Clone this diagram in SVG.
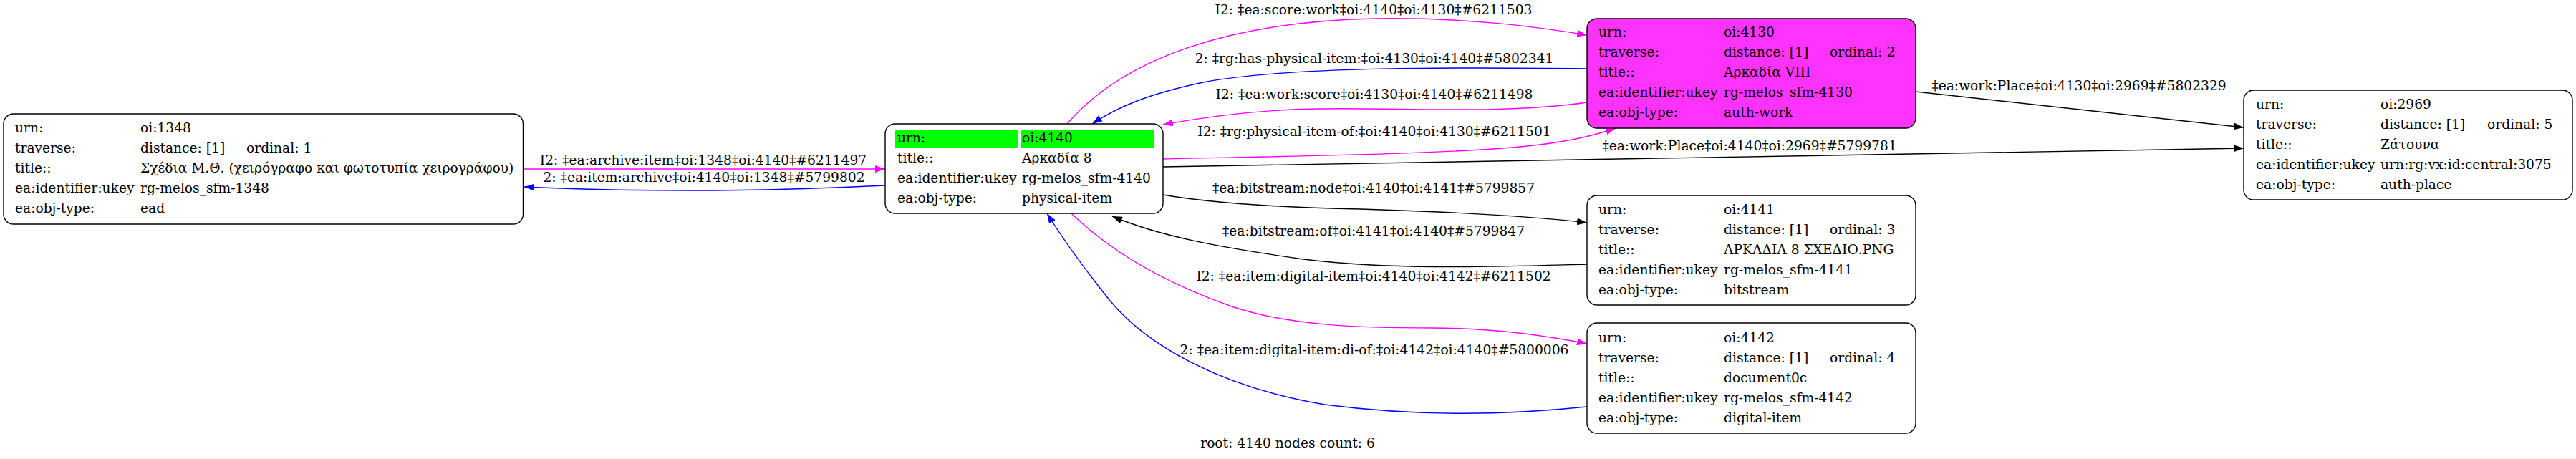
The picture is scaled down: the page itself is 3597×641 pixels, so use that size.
<svg xmlns="http://www.w3.org/2000/svg" width="3597" height="641" viewBox="0 0 3597 641">
<defs>
<style>
text{font-family:"DejaVu Serif","Liberation Serif",serif;font-size:18.67px;fill:#000}
.box{fill:#fff;stroke:#000;stroke-width:1.4}
.e{fill:none;stroke-width:1.4}
.k{stroke:#000}.b{stroke:#0000ff}.m{stroke:#ff00ff}
.lbl{text-anchor:middle}
</style>
<marker id="ak" viewBox="0 0 14 10" refX="14" refY="5" markerWidth="14" markerHeight="10" markerUnits="userSpaceOnUse" orient="auto"><path d="M0,0L14,5L0,10z" fill="#000"/></marker>
<marker id="ab" viewBox="0 0 14 10" refX="14" refY="5" markerWidth="14" markerHeight="10" markerUnits="userSpaceOnUse" orient="auto"><path d="M0,0L14,5L0,10z" fill="#0000ff"/></marker>
<marker id="am" viewBox="0 0 14 10" refX="14" refY="5" markerWidth="14" markerHeight="10" markerUnits="userSpaceOnUse" orient="auto"><path d="M0,0L14,5L0,10z" fill="#ff00ff"/></marker>
</defs>
<rect width="3597" height="641" fill="#fff"/>
<g id="edges">
<path class="e m" d="M1490,173 C1570,80 1720,30 1920,26 C2050,24 2150,38 2216,49" marker-end="url(#am)"/>
<text class="lbl" x="1918" y="20">I2: ‡ea:score:work‡oi:4140‡oi:4130‡#6211503</text>
<path class="e b" d="M2216,96 C2050,94 1800,92 1680,115 C1600,132 1560,150 1525,173" marker-end="url(#ab)"/>
<text class="lbl" x="1919" y="88">2: ‡rg:has-physical-item:‡oi:4130‡oi:4140‡#5802341</text>
<path class="e m" d="M2216,143 C2100,160 1950,150 1840,152 C1760,153 1690,162 1624,174" marker-end="url(#am)"/>
<text class="lbl" x="1919" y="138">I2: ‡ea:work:score‡oi:4130‡oi:4140‡#6211498</text>
<path class="e m" d="M1624,222 C1800,218 2050,215 2150,202 C2200,196 2230,188 2256,179" marker-end="url(#am)"/>
<text class="lbl" x="1919" y="190">I2: ‡rg:physical-item-of:‡oi:4140‡oi:4130‡#6211501</text>
<path class="e k" d="M1624,233 L3133,207" marker-end="url(#ak)"/>
<text class="lbl" x="2443" y="210">‡ea:work:Place‡oi:4140‡oi:2969‡#5799781</text>
<path class="e k" d="M2675,128 L3133,178" marker-end="url(#ak)"/>
<text class="lbl" x="2903" y="126">‡ea:work:Place‡oi:4130‡oi:2969‡#5802329</text>
<path class="e m" d="M732,236 L1236,236" marker-end="url(#am)"/>
<text class="lbl" x="982" y="230">I2: ‡ea:archive:item‡oi:1348‡oi:4140‡#6211497</text>
<path class="e b" d="M1236,259 C1050,268 900,268 732,261" marker-end="url(#ab)"/>
<text class="lbl" x="983" y="254">2: ‡ea:item:archive‡oi:4140‡oi:1348‡#5799802</text>
<path class="e k" d="M1624,272 C1700,285 1800,290 1900,292 C2000,295 2120,300 2216,311" marker-end="url(#ak)"/>
<text class="lbl" x="1918" y="269">‡ea:bitstream:node‡oi:4140‡oi:4141‡#5799857</text>
<path class="e k" d="M2216,369 C2100,372 1950,378 1820,362 C1700,345 1620,330 1553,302" marker-end="url(#ak)"/>
<text class="lbl" x="1918" y="329">‡ea:bitstream:of‡oi:4141‡oi:4140‡#5799847</text>
<path class="e m" d="M1496,298 C1560,360 1640,400 1720,428 C1800,455 1900,458 2000,458 C2080,458 2150,467 2216,480" marker-end="url(#am)"/>
<text class="lbl" x="1918" y="392">I2: ‡ea:item:digital-item‡oi:4140‡oi:4142‡#6211502</text>
<path class="e b" d="M2216,568 C2100,580 1980,582 1850,565 C1700,540 1600,480 1550,420 C1510,370 1485,335 1462,298" marker-end="url(#ab)"/>
<text class="lbl" x="1919" y="495">2: ‡ea:item:digital-item:di-of:‡oi:4142‡oi:4140‡#5800006</text>
</g>
<g id="n1348">
<rect class="box" x="5" y="159" width="725.5" height="154" rx="14"/>
<text x="21" y="185">urn:</text><text x="196" y="185">oi:1348</text>
<text x="21" y="213">traverse:</text><text x="196" y="213">distance: [1]</text><text x="344" y="213">ordinal: 1</text>
<text x="21" y="241">title::</text><text x="196" y="241">Σχέδια Μ.Θ. (χειρόγραφο και φωτοτυπία χειρογράφου)</text>
<text x="21" y="269">ea:identifier:ukey</text><text x="196" y="269">rg-melos_sfm-1348</text>
<text x="21" y="297">ea:obj-type:</text><text x="196" y="297">ead</text>
</g>
<g id="n4140">
<rect class="box" x="1236" y="173" width="388" height="125" rx="14"/>
<rect x="1250" y="181" width="172" height="26" fill="#00ff00"/>
<rect x="1425" y="181" width="186" height="26" fill="#00ff00"/>
<text x="1253" y="199">urn:</text><text x="1427" y="199">oi:4140</text>
<text x="1253" y="227">title::</text><text x="1427" y="227">Αρκαδία 8</text>
<text x="1253" y="255">ea:identifier:ukey</text><text x="1427" y="255">rg-melos_sfm-4140</text>
<text x="1253" y="283">ea:obj-type:</text><text x="1427" y="283">physical-item</text>
</g>
<g id="n4130">
<rect class="box" x="2216" y="26" width="459" height="153" rx="14" style="fill:#ff33ff"/>
<text x="2232" y="51">urn:</text><text x="2407" y="51">oi:4130</text>
<text x="2232" y="79">traverse:</text><text x="2407" y="79">distance: [1]</text><text x="2555" y="79">ordinal: 2</text>
<text x="2232" y="107">title::</text><text x="2407" y="107">Αρκαδία VIII</text>
<text x="2232" y="135">ea:identifier:ukey</text><text x="2407" y="135">rg-melos_sfm-4130</text>
<text x="2232" y="163">ea:obj-type:</text><text x="2407" y="163">auth-work</text>
</g>
<g id="n4141">
<rect class="box" x="2216" y="273" width="459" height="153" rx="14"/>
<text x="2232" y="299">urn:</text><text x="2407" y="299">oi:4141</text>
<text x="2232" y="327">traverse:</text><text x="2407" y="327">distance: [1]</text><text x="2555" y="327">ordinal: 3</text>
<text x="2232" y="355">title::</text><text x="2407" y="355">ΑΡΚΑΔΙΑ 8 ΣΧΕΔΙΟ.PNG</text>
<text x="2232" y="383">ea:identifier:ukey</text><text x="2407" y="383">rg-melos_sfm-4141</text>
<text x="2232" y="411">ea:obj-type:</text><text x="2407" y="411">bitstream</text>
</g>
<g id="n4142">
<rect class="box" x="2216" y="451" width="459" height="154" rx="14"/>
<text x="2232" y="478">urn:</text><text x="2407" y="478">oi:4142</text>
<text x="2232" y="506">traverse:</text><text x="2407" y="506">distance: [1]</text><text x="2555" y="506">ordinal: 4</text>
<text x="2232" y="534">title::</text><text x="2407" y="534">document0c</text>
<text x="2232" y="562">ea:identifier:ukey</text><text x="2407" y="562">rg-melos_sfm-4142</text>
<text x="2232" y="590">ea:obj-type:</text><text x="2407" y="590">digital-item</text>
</g>
<g id="n2969">
<rect class="box" x="3133" y="126" width="459" height="153" rx="14"/>
<text x="3150" y="152">urn:</text><text x="3324" y="152">oi:2969</text>
<text x="3150" y="180">traverse:</text><text x="3324" y="180">distance: [1]</text><text x="3473" y="180">ordinal: 5</text>
<text x="3150" y="208">title::</text><text x="3324" y="208">Ζάτουνα</text>
<text x="3150" y="236">ea:identifier:ukey</text><text x="3324" y="236">urn:rg:vx:id:central:3075</text>
<text x="3150" y="264">ea:obj-type:</text><text x="3324" y="264">auth-place</text>
</g>
<text x="1798" y="625" class="lbl">root: 4140 nodes count: 6</text>
</svg>
